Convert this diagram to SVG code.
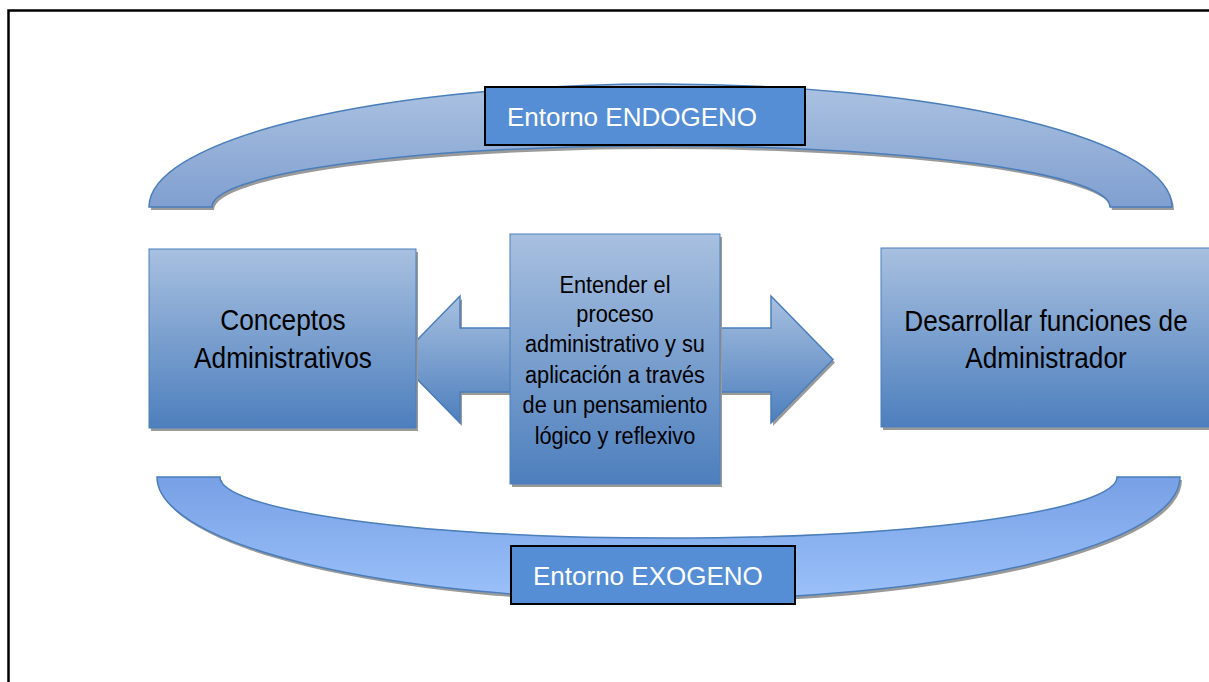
<svg xmlns="http://www.w3.org/2000/svg" width="1209" height="682" viewBox="0 0 1209 682">
<defs>
<linearGradient id="gTop" x1="0" y1="0" x2="0" y2="1">
<stop offset="0" stop-color="#abc2e1"/>
<stop offset="1" stop-color="#809fd0"/>
</linearGradient>
<linearGradient id="gBot" x1="0" y1="0" x2="0" y2="1">
<stop offset="0" stop-color="#77a0e5"/>
<stop offset="1" stop-color="#9cc1fa"/>
</linearGradient>
<linearGradient id="gBox" x1="0" y1="0" x2="0" y2="1">
<stop offset="0" stop-color="#a8c0e0"/>
<stop offset="1" stop-color="#4d7fbd"/>
</linearGradient>
<path id="arcTop" d="M149,207 A511.5,123 0 0 1 1172,207 L1110,207 A449,61 0 0 0 212,207 Z"/>
<path id="arcBot" d="M157,477 L220,477 A448.5,61 0 0 0 1117,477 L1180,477 A511.5,123 0 0 1 157,477 Z"/>
<path id="dblArrow" d="M398,359.5 L460,296 L460,328 L771,328 L771,296 L833,359.5 L771,423 L771,392 L460,392 L460,423 Z"/>
</defs>
<style>
.shadow{fill:#9a9a9a;stroke:none}
.shape{stroke:#4a7ebb;stroke-width:1.5}
.box{fill:url(#gBox);stroke:#4a7ebb;stroke-width:1}
.label{fill:#558ed5;stroke:#000;stroke-width:2}
.lt{font-family:"Liberation Sans",Arial,sans-serif;fill:#fff;font-size:26px}
.bt{font-family:"Liberation Sans",Arial,sans-serif;fill:#000;font-size:30px;text-anchor:middle}
.ct{font-family:"Liberation Sans",Arial,sans-serif;fill:#000;font-size:23.3px;text-anchor:middle}
</style>
<rect width="1209" height="682" fill="#fff"/>
<path d="M8.5,690 V10.5 H1215" fill="none" stroke="#000" stroke-width="2.5"/>

<g id="connectors">
<g id="arrow-bidirectional">
<use href="#dblArrow" class="shadow" transform="translate(2,3)"/>
<use href="#dblArrow" class="shape" fill="url(#gBox)"/>
</g>
</g>

<g id="entorno-endogeno">
<use href="#arcTop" class="shadow" transform="translate(2,3)"/>
<use href="#arcTop" class="shape" fill="url(#gTop)"/>
<rect class="label" x="485" y="87" width="320" height="58"/>
<text class="lt" x="507" y="125.5">Entorno ENDOGENO</text>
</g>

<g id="entorno-exogeno">
<use href="#arcBot" class="shadow" transform="translate(2,3)"/>
<use href="#arcBot" class="shape" fill="url(#gBot)"/>
<rect class="label" x="511" y="546" width="284" height="58"/>
<text class="lt" x="533" y="584.5">Entorno EXOGENO</text>
</g>

<g id="conceptos">
<rect class="shadow" x="151" y="252" width="267" height="179"/>
<rect class="box" x="149" y="249" width="267" height="179"/>
<g transform="matrix(0.875,0,0,1,35.4,0)">
<text class="bt" x="283" y="330">Conceptos</text>
<text class="bt" x="283" y="368">Administrativos</text>
</g>
</g>

<g id="entender">
<rect class="shadow" x="512" y="237" width="210" height="250"/>
<rect class="box" x="510" y="234" width="210" height="250"/>
<g transform="matrix(0.933,0,0,1,41.2,0)">
<text class="ct" x="615" y="293">Entender el</text>
<text class="ct" x="615" y="322.5">proceso</text>
<text class="ct" x="615" y="352.5">administrativo y su</text>
<text class="ct" x="615" y="383">aplicación a través</text>
<text class="ct" x="615" y="413.5">de un pensamiento</text>
<text class="ct" x="615" y="444">lógico y reflexivo</text>
</g>
</g>

<g id="desarrollar">
<rect class="shadow" x="883" y="251" width="340" height="179"/>
<rect class="box" x="881" y="248" width="330" height="179"/>
<g transform="matrix(0.872,0,0,1,133.9,0)">
<text class="bt" x="1046" y="331">Desarrollar funciones de</text>
<text class="bt" x="1046" y="368">Administrador</text>
</g>
</g>
</svg>
